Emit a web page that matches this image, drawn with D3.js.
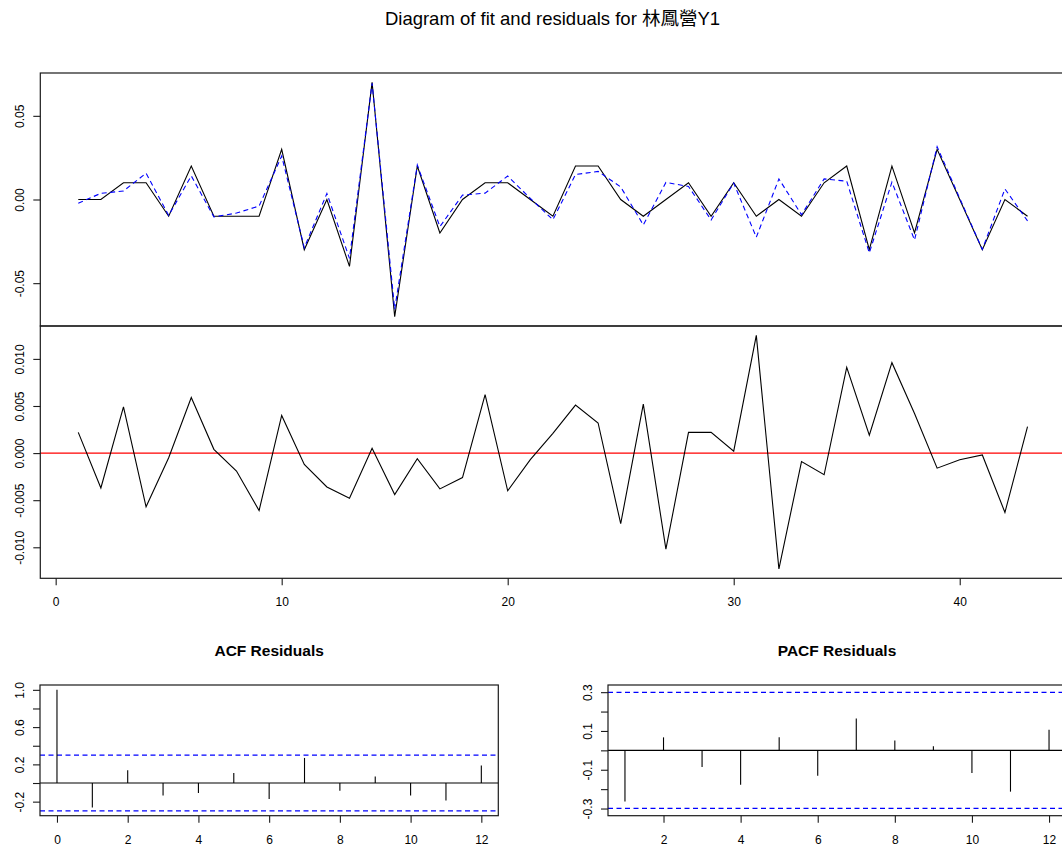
<!DOCTYPE html>
<html>
<head>
<meta charset="utf-8">
<script src="https://cdn.jsdelivr.net/npm/d3@7"></script>
<style>
  html, body { margin: 0; padding: 0; background: #fff; }
  svg { display: block; font-family: "Liberation Sans", Arial, "Noto Sans CJK TC", sans-serif; }
  .tick text { font-size: 12px; fill: #000; }
</style>
</head>
<body>
<svg id="chart" width="1062" height="847"></svg>
<script>
// Series 林鳳營Y1: observed values, model fit and residuals (t = 1..43)
const observed = [0, 0, 0.01, 0.01, -0.01, 0.02, -0.01, -0.01, -0.01, 0.03,
  -0.03, 0, -0.04, 0.07, -0.07, 0.02, -0.02, 0, 0.01, 0.01,
  0, -0.01, 0.02, 0.02, 0, -0.01, 0, 0.01, -0.01, 0.01,
  -0.01, 0, -0.01, 0.01, 0.02, -0.03, 0.02, -0.02, 0.03, 0,
  -0.03, 0, -0.01];
const fitted = [-0.0022, 0.0037, 0.0051, 0.0157, -0.0095, 0.0141, -0.0104, -0.0081, -0.0039, 0.0260,
  -0.0288, 0.0036, -0.0352, 0.0695, -0.0656, 0.0206, -0.0162, 0.0026, 0.0038, 0.0140,
  0.0007, -0.0121, 0.0149, 0.0168, 0.0075, -0.0152, 0.0102, 0.0078, -0.0122, 0.0098,
  -0.0225, 0.0123, -0.0091, 0.0123, 0.0109, -0.0319, 0.0104, -0.0242, 0.0316, 0.0007,
  -0.0298, 0.0063, -0.0128];
const residuals = [0.0022, -0.0037, 0.0049, -0.0057, -0.0005, 0.0059, 0.0004, -0.0019, -0.0061, 0.0040,
  -0.0012, -0.0036, -0.0048, 0.0005, -0.0044, -0.0006, -0.0038, -0.0026, 0.0062, -0.0040,
  -0.0007, 0.0021, 0.0051, 0.0032, -0.0075, 0.0052, -0.0102, 0.0022, 0.0022, 0.0002,
  0.0125, -0.0123, -0.0009, -0.0023, 0.0091, 0.0019, 0.0096, 0.0042, -0.0016, -0.0007,
  -0.0002, -0.0063, 0.0028];

// Residual autocorrelations
const acfLags = [0, 1, 2, 3, 4, 5, 6, 7, 8, 9, 10, 11, 12];
const acfValues = [1, -0.264, 0.136, -0.133, -0.108, 0.108, -0.172, 0.269, -0.083, 0.071, -0.133, -0.187, 0.189];
const pacfLags = [1, 2, 3, 4, 5, 6, 7, 8, 9, 10, 11, 12];
const pacfValues = [-0.264, 0.067, -0.086, -0.177, 0.067, -0.131, 0.164, 0.051, 0.021, -0.117, -0.213, 0.106];
const confLimit = 0.2989;   // 1.96 / sqrt(43)
const pacfLimit = 0.312;

// Tick values and labels
const fitTicks = [-0.05, 0, 0.05];
const fitTickLabels = ["-0.05", "0.00", "0.05"];
const resTicks = [-0.01, -0.005, 0, 0.005, 0.01];
const resTickLabels = ["-0.010", "-0.005", "0.000", "0.005", "0.010"];
const timeTicks = [0, 10, 20, 30, 40];
const acfYTicks = [-0.2, 0, 0.2, 0.4, 0.6, 0.8, 1.0];
const acfYLabels = ["-0.2", "", "0.2", "", "0.6", "", "1.0"];
const acfXTicks = [0, 2, 4, 6, 8, 10, 12];
const pacfYTicks = [-0.3, -0.2, -0.1, 0, 0.1, 0.2, 0.3];
const pacfYLabels = ["-0.3", "", "-0.1", "", "0.1", "", "0.3"];
const pacfXTicks = [2, 4, 6, 8, 10, 12];

const mainTitle = "Diagram of fit and residuals for 林鳳營Y1";
const acfTitle = "ACF Residuals";
const pacfTitle = "PACF Residuals";

const svg = d3.select("#chart");
const t = d3.range(1, observed.length + 1);

// Extend a [min, max] range by 4% on each side, as base graphics does
function padded(lo, hi) {
  const d = (hi - lo) * 0.04;
  return [lo - d, hi + d];
}

function box(x0, x1, y0, y1) {
  svg.append("rect")
    .attr("x", x0).attr("y", y0)
    .attr("width", x1 - x0).attr("height", y1 - y0)
    .attr("fill", "none").attr("stroke", "#1a1a1a").attr("stroke-width", 1.2);
}

function leftAxis(scale, xPos, ticks, labels) {
  const g = svg.append("g").attr("transform", `translate(${xPos},0)`)
    .call(d3.axisLeft(scale).tickValues(ticks).tickSize(7).tickSizeOuter(0)
      .tickFormat((d, i) => labels[i]));
  g.select(".domain").remove();
  g.selectAll(".tick line").attr("stroke", "#1a1a1a").attr("stroke-width", 1.1);
  g.selectAll(".tick text")
    .attr("x", null).attr("dy", null)
    .attr("text-anchor", "middle")
    .attr("transform", "translate(-16,0) rotate(-90)");
  return g;
}

function bottomAxis(scale, yPos, ticks) {
  const g = svg.append("g").attr("transform", `translate(0,${yPos})`)
    .call(d3.axisBottom(scale).tickValues(ticks).tickSize(7).tickSizeOuter(0)
      .tickFormat(d3.format("d")));
  g.select(".domain").remove();
  g.selectAll(".tick line").attr("stroke", "#1a1a1a").attr("stroke-width", 1.1);
  g.selectAll(".tick text").attr("y", 28).attr("dy", null);
  return g;
}

// ---- Title ----
svg.append("text")
  .attr("x", 552.5).attr("y", 25)
  .attr("text-anchor", "middle")
  .style("font-size", "18.5px")
  .text(mainTitle);

// ---- Shared time axis for the two upper panels ----
const x = d3.scaleLinear().domain(padded(1, observed.length)).range([40.3, 1065.5]);

// ---- Panel 1: observed vs fitted ----
const yFit = d3.scaleLinear()
  .domain(padded(d3.min(observed.concat(fitted)), d3.max(observed.concat(fitted))))
  .range([326, 73]);

svg.append("path")
  .datum(t)
  .attr("fill", "none").attr("stroke", "#000").attr("stroke-width", 1.1)
  .attr("d", d3.line().x(i => x(i)).y(i => yFit(observed[i - 1])));

svg.append("path")
  .datum(t)
  .attr("fill", "none").attr("stroke", "#0000ff").attr("stroke-width", 1.1)
  .attr("stroke-dasharray", "5,3.5")
  .attr("d", d3.line().x(i => x(i)).y(i => yFit(fitted[i - 1])));

box(40.3, 1065.5, 73, 326);
leftAxis(yFit, 40.3, fitTicks, fitTickLabels);

// ---- Panel 2: residuals ----
const yRes = d3.scaleLinear()
  .domain(padded(d3.min(residuals), d3.max(residuals)))
  .range([578.3, 326]);

svg.append("line")
  .attr("x1", 40.3).attr("x2", 1065.5)
  .attr("y1", yRes(0)).attr("y2", yRes(0))
  .attr("stroke", "#ff0000").attr("stroke-width", 1.2);

svg.append("path")
  .datum(t)
  .attr("fill", "none").attr("stroke", "#000").attr("stroke-width", 1.1)
  .attr("d", d3.line().x(i => x(i)).y(i => yRes(residuals[i - 1])));

box(40.3, 1065.5, 326, 578.3);
leftAxis(yRes, 40.3, resTicks, resTickLabels);
bottomAxis(x, 578.3, timeTicks);

// ---- Correlogram panels ----
function correlogram(lags, values, limit, yLo, yHi, xRange, yTicks, yLabels, xTicks, title) {
  const xs = d3.scaleLinear().domain(padded(d3.min(lags), d3.max(lags))).range(xRange);
  const ys = d3.scaleLinear().domain(padded(yLo, yHi)).range([815.7, 685]);

  svg.append("text")
    .attr("x", (xRange[0] + xRange[1]) / 2).attr("y", 656)
    .attr("text-anchor", "middle")
    .style("font-size", "15.5px").style("font-weight", "bold")
    .text(title);

  [limit, -limit].forEach(v => {
    svg.append("line")
      .attr("x1", xRange[0]).attr("x2", xRange[1])
      .attr("y1", ys(v)).attr("y2", ys(v))
      .attr("stroke", "#0000ff").attr("stroke-width", 1.2)
      .attr("stroke-dasharray", "5,3.5");
  });

  svg.append("line")
    .attr("x1", xRange[0]).attr("x2", xRange[1])
    .attr("y1", ys(0)).attr("y2", ys(0))
    .attr("stroke", "#000").attr("stroke-width", 1.1);

  svg.append("g").selectAll("line")
    .data(lags)
    .join("line")
    .attr("x1", d => xs(d)).attr("x2", d => xs(d))
    .attr("y1", ys(0)).attr("y2", (d, i) => ys(values[i]))
    .attr("stroke", "#000").attr("stroke-width", 1.1);

  box(xRange[0], xRange[1], 685, 815.7);
  leftAxis(ys, xRange[0], yTicks, yLabels);
  bottomAxis(xs, 815.7, xTicks);
}

correlogram(acfLags, acfValues, confLimit, -confLimit, 1, [40, 498.3],
  acfYTicks, acfYLabels, acfXTicks, acfTitle);
correlogram(pacfLags, pacfValues, confLimit, -pacfLimit, pacfLimit, [608, 1066],
  pacfYTicks, pacfYLabels, pacfXTicks, pacfTitle);
</script>
</body>
</html>
